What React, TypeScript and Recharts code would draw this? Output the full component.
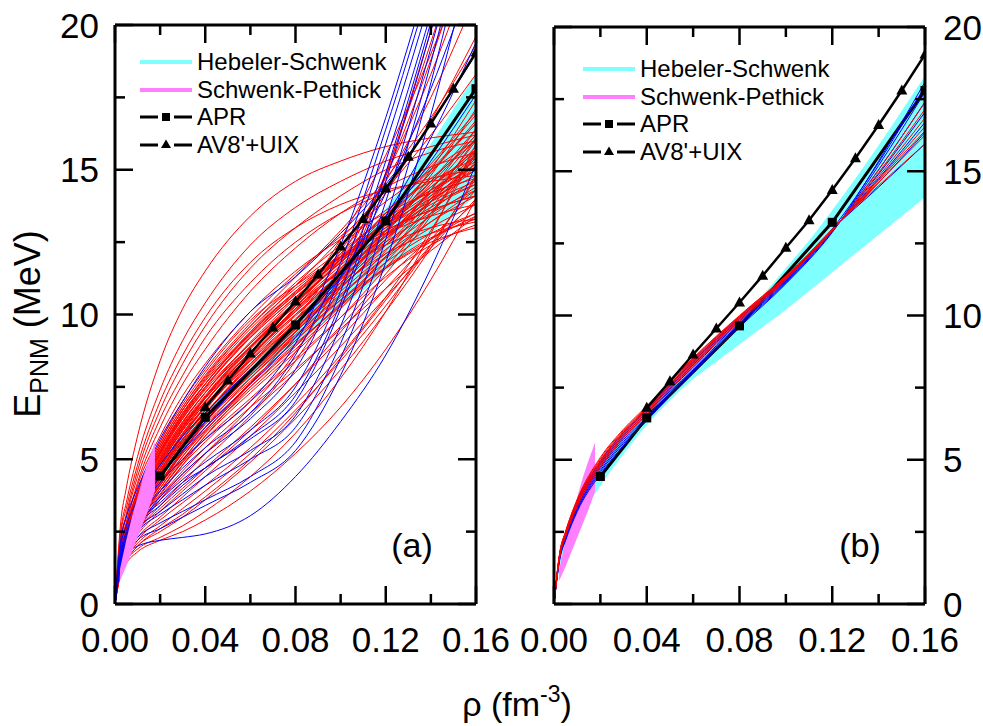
import React from "react";
import { ComposedChart, Line, Area, XAxis, YAxis, Legend } from "recharts";

const FONT = "'Liberation Sans', Arial, Helvetica, sans-serif";

// density grid (fm^-3) used by the EOS curves
const rhoGrid = [0, 0.0025, 0.005, 0.01, 0.02, 0.03, 0.04, 0.06, 0.08, 0.1, 0.12, 0.14, 0.16];

// panel (a) red curves: E_PNM (MeV) at rhoGrid
const redCurvesA: number[][] = [
  [0, 2.8, 4.0, 5.8, 8.4, 10.2, 11.5, 13.4, 14.6, 15.3, 15.8, 16.1, 16.3],
  [0, 2.5, 3.5, 5.1, 7.4, 9.1, 10.4, 12.4, 13.7, 14.6, 15.3, 15.8, 16.2],
  [0, 2.2, 3.1, 4.6, 6.7, 8.3, 9.6, 11.6, 13.0, 14.1, 15.0, 15.6, 16.0],
  [0, 2.0, 2.8, 4.2, 6.1, 7.6, 8.8, 10.8, 12.3, 13.5, 14.4, 15.1, 15.6],
  [0, 2.4, 3.3, 4.8, 7.0, 8.6, 9.9, 11.8, 13.0, 13.8, 14.3, 14.6, 14.8],
  [0, 2.1, 3.0, 4.4, 6.4, 7.9, 9.2, 11.1, 12.5, 13.5, 14.2, 14.7, 15.0],
  [0, 1.9, 2.7, 3.9, 5.6, 6.9, 8.0, 9.8, 11.0, 12.0, 12.8, 13.4, 13.8],
  [0, 1.8, 2.6, 3.8, 5.4, 6.7, 7.7, 9.4, 10.8, 12.0, 13.1, 14.0, 14.8],
  [0, 1.8, 2.5, 3.7, 5.3, 6.5, 7.5, 9.2, 10.6, 11.9, 13.2, 14.4, 15.6],
  [0, 1.7, 2.5, 3.6, 5.2, 6.4, 7.4, 9.0, 10.4, 11.8, 13.3, 14.9, 16.6],
  [0, 1.7, 2.4, 3.5, 5.1, 6.3, 7.3, 8.9, 10.3, 11.5, 12.4, 13.0, 13.3],
  [0, 1.7, 2.4, 3.5, 5.0, 6.2, 7.1, 8.7, 10.1, 11.4, 12.7, 13.9, 15.0],
  [0, 1.6, 2.3, 3.4, 4.9, 6.1, 7.0, 8.6, 10.0, 11.4, 12.9, 14.5, 16.2],
  [0, 1.6, 2.3, 3.4, 4.8, 6.0, 6.9, 8.4, 9.8, 11.2, 12.6, 14.1, 15.7],
  [0, 1.6, 2.3, 3.3, 4.7, 5.9, 6.8, 8.3, 9.7, 11.0, 12.1, 12.8, 13.2],
  [0, 1.5, 2.2, 3.2, 4.6, 5.7, 6.6, 8.1, 9.5, 10.9, 12.4, 13.9, 15.4],
  [0, 1.5, 2.2, 3.2, 4.5, 5.6, 6.5, 8.0, 9.4, 10.9, 12.5, 14.3, 16.4],
  [0, 1.5, 2.1, 3.1, 4.4, 5.5, 6.4, 7.9, 9.3, 10.7, 12.0, 13.2, 14.3],
  [0, 1.4, 2.1, 3.0, 4.3, 5.4, 6.3, 7.8, 9.2, 10.5, 11.6, 12.5, 13.0],
  [0, 1.4, 2.0, 3.0, 4.2, 5.3, 6.2, 7.7, 9.1, 10.6, 12.2, 14.0, 16.0],
  [0, 1.4, 2.0, 2.9, 4.1, 5.2, 6.0, 7.5, 8.9, 10.4, 12.0, 13.7, 15.5],
  [0, 1.3, 1.9, 2.8, 4.0, 5.0, 5.9, 7.4, 8.8, 10.3, 12.0, 13.9, 16.1],
  [0, 1.3, 1.9, 2.8, 3.9, 4.9, 5.7, 7.1, 8.5, 9.9, 11.3, 12.4, 13.1],
  [0, 1.3, 1.8, 2.7, 3.8, 4.8, 5.6, 7.0, 8.4, 9.9, 11.6, 13.5, 15.6],
  [0, 1.2, 1.8, 2.6, 3.7, 4.6, 5.4, 6.8, 8.1, 9.5, 10.9, 12.2, 13.4],
  [0, 1.2, 1.7, 2.5, 3.6, 4.5, 5.2, 6.6, 8.0, 9.6, 11.4, 13.4, 15.7],
  [0, 1.7, 2.5, 3.6, 5.2, 6.5, 7.6, 9.4, 11.0, 12.6, 14.3, 16.2, 18.3],
  [0, 1.6, 2.3, 3.4, 4.9, 6.1, 7.1, 8.8, 10.4, 12.1, 14.2, 16.7, 19.6],
  [0, 1.5, 2.2, 3.2, 4.6, 5.8, 6.8, 8.5, 10.2, 12.2, 14.6, 17.5, 21.0],
  [0, 1.4, 2.0, 2.9, 4.2, 5.3, 6.3, 8.0, 9.8, 12.0, 14.8, 18.3, 22.5],
  [0, 1.8, 2.6, 3.8, 5.5, 6.8, 7.9, 9.7, 11.3, 12.9, 14.7, 16.8, 19.3],
  [0, 1.9, 2.7, 3.9, 5.6, 7.0, 8.1, 9.9, 11.4, 12.7, 13.9, 15.0, 16.0],
  [0, 2.0, 2.8, 4.1, 5.8, 7.2, 8.3, 10.1, 11.5, 12.6, 13.5, 14.2, 14.7],
  [0, 1.5, 2.1, 3.1, 4.4, 5.5, 6.4, 7.9, 9.4, 11.0, 12.8, 14.8, 17.1],
  [0, 1.6, 2.3, 3.3, 4.8, 6.0, 7.0, 8.7, 10.2, 11.6, 12.8, 13.8, 14.5],
  [0, 1.8, 2.5, 3.7, 5.3, 6.6, 7.6, 9.3, 10.7, 11.9, 12.9, 13.6, 14.1],
  [0, 1.4, 2.0, 2.9, 4.2, 5.2, 6.1, 7.6, 9.0, 10.3, 11.6, 12.6, 13.4],
  [0, 1.5, 2.2, 3.2, 4.6, 5.7, 6.6, 8.2, 9.7, 11.2, 12.7, 14.2, 15.8],
  [0, 1.7, 2.4, 3.5, 5.0, 6.2, 7.2, 8.9, 10.4, 11.9, 13.5, 15.2, 17.0],
  [0, 1.3, 1.9, 2.7, 3.9, 4.9, 5.8, 7.3, 8.7, 10.2, 11.8, 13.5, 15.3],
  [0, 1.6, 2.2, 3.2, 4.5, 5.6, 6.5, 8.0, 9.5, 11.1, 12.9, 15.0, 17.4],
  [0, 1.9, 2.6, 3.8, 5.4, 6.7, 7.8, 9.6, 11.1, 12.4, 13.6, 14.6, 15.4],
  [0, 1.85, 2.6, 3.75, 5.4, 6.7, 7.75, 9.5, 10.9, 12.0, 12.9, 13.6, 14.1],
  [0, 1.8, 2.55, 3.7, 5.3, 6.6, 7.6, 9.35, 10.75, 11.95, 13.0, 13.9, 14.6],
  [0, 1.75, 2.5, 3.6, 5.15, 6.4, 7.45, 9.2, 10.6, 11.9, 13.1, 14.2, 15.2],
  [0, 1.7, 2.45, 3.55, 5.05, 6.3, 7.3, 9.0, 10.45, 11.8, 13.1, 14.4, 15.7],
  [0, 1.65, 2.4, 3.45, 4.95, 6.15, 7.15, 8.85, 10.3, 11.7, 13.1, 14.6, 16.2],
  [0, 1.6, 2.3, 3.35, 4.8, 6.0, 7.0, 8.7, 10.15, 11.55, 12.9, 14.2, 15.5],
  [0, 1.55, 2.25, 3.25, 4.7, 5.85, 6.85, 8.55, 10.0, 11.4, 12.75, 14.0, 15.2],
  [0, 1.5, 2.2, 3.15, 4.55, 5.7, 6.7, 8.4, 9.85, 11.25, 12.6, 13.9, 15.1],
  [0, 1.45, 2.1, 3.05, 4.4, 5.55, 6.55, 8.25, 9.7, 11.1, 12.4, 13.6, 14.7],
  [0, 1.4, 2.05, 2.95, 4.3, 5.4, 6.4, 8.1, 9.55, 10.95, 12.25, 13.4, 14.4],
  [0, 1.35, 1.95, 2.85, 4.15, 5.25, 6.25, 7.95, 9.4, 10.8, 12.1, 13.2, 14.1],
  [0, 1.3, 1.9, 2.75, 4.0, 5.1, 6.1, 7.8, 9.25, 10.65, 11.95, 13.0, 13.8],
  [0, 1.25, 1.85, 2.65, 3.9, 4.95, 5.95, 7.65, 9.1, 10.5, 11.8, 12.8, 13.5],
  [0, 1.2, 1.75, 2.55, 3.75, 4.8, 5.8, 7.5, 8.95, 10.35, 11.65, 12.65, 13.3],
  [0, 1.8, 2.55, 3.65, 5.25, 6.55, 7.6, 9.35, 10.8, 12.1, 13.4, 14.7, 16.0],
  [0, 1.7, 2.45, 3.5, 5.0, 6.25, 7.3, 9.05, 10.55, 12.0, 13.5, 15.0, 16.6],
  [0, 1.6, 2.35, 3.4, 4.85, 6.05, 7.1, 8.85, 10.35, 11.85, 13.4, 15.1, 16.9],
  [0, 1.5, 2.2, 3.2, 4.6, 5.8, 6.85, 8.6, 10.1, 11.6, 13.2, 14.9, 16.7],
  [0, 1.4, 2.05, 3.0, 4.35, 5.5, 6.55, 8.3, 9.8, 11.3, 12.9, 14.6, 16.4],
  [0, 1.3, 1.95, 2.8, 4.1, 5.25, 6.3, 8.0, 9.5, 11.0, 12.6, 14.3, 16.1],
  [0, 1.9, 2.65, 3.8, 5.5, 6.8, 7.85, 9.6, 11.0, 12.2, 13.3, 14.3, 15.1],
  [0, 1.75, 2.5, 3.6, 5.2, 6.45, 7.5, 9.25, 10.7, 12.0, 13.2, 14.3, 15.3],
  [0, 1.65, 2.35, 3.4, 4.9, 6.1, 7.15, 8.9, 10.4, 11.8, 13.0, 14.1, 15.0],
  [0, 1.55, 2.25, 3.25, 4.7, 5.9, 6.95, 8.7, 10.2, 11.5, 12.7, 13.7, 14.5],
  [0, 1.45, 2.15, 3.1, 4.5, 5.65, 6.7, 8.45, 9.95, 11.3, 12.5, 13.5, 14.3],
  [0, 1.2, 1.6, 2.1, 2.7, 3.3, 3.9, 5.2, 6.7, 8.4, 10.3, 12.4, 14.7],
  [0, 1.1, 1.5, 2.0, 2.5, 3.0, 3.6, 4.9, 6.4, 8.1, 10.1, 12.3, 14.8],
  [0, 1.2, 1.7, 2.3, 3.0, 3.7, 4.4, 5.8, 7.3, 8.9, 10.6, 12.3, 14.0],
  [0, 1.1, 1.5, 1.9, 2.3, 2.7, 3.2, 4.4, 5.9, 7.8, 10.1, 12.8, 15.9],
  [0, 1.0, 1.4, 1.8, 2.2, 2.5, 2.9, 3.9, 5.2, 6.8, 8.8, 11.2, 14.0],
  [0, 1.2, 1.6, 2.2, 2.9, 3.5, 4.1, 5.4, 6.9, 8.6, 10.6, 12.9, 15.6],
  [0, 1.3, 1.8, 2.5, 3.3, 4.0, 4.7, 6.1, 7.6, 9.2, 10.9, 12.6, 14.3],
  [0, 1.1, 1.5, 2.0, 2.6, 3.1, 3.7, 5.0, 6.6, 8.5, 10.5, 12.4, 13.9],
  [0, 1.3, 1.8, 2.4, 3.2, 3.9, 4.6, 6.0, 7.6, 9.4, 11.2, 12.6, 13.5],
  [0, 1.6, 2.3, 3.3, 4.7, 5.8, 6.8, 8.5, 10.3, 12.6, 15.5, 19.0, 23.0],
  [0, 1.4, 2.0, 2.9, 4.1, 5.1, 6.0, 7.6, 9.4, 11.7, 14.8, 18.8, 23.5],
  [0, 1.2, 1.7, 2.5, 3.4, 4.2, 5.0, 6.5, 8.4, 11.0, 14.8, 19.8, 25.0],
  [0, 1.3, 1.8, 2.6, 3.6, 4.4, 5.2, 6.8, 8.7, 11.3, 14.9, 19.4, 24.5],
];

// panel (a) blue curves
const blueCurvesA: number[][] = [
  [0, 1.3, 1.7, 2.0, 2.2, 2.3, 2.42, 3.05, 4.4, 6.3, 8.6, 11.6, 15.2],
  [0, 2.2, 3.0, 4.0, 5.7, 7.0, 8.2, 10.1, 11.3, 12.8, 14.5, 16.6, 19.0],
  [0, 1.7, 2.3, 3.0, 3.9, 4.7, 5.4, 6.6, 8.6, 11.8, 16.4, 21.5, 27.0],
  [0, 1.6, 2.2, 2.9, 3.7, 4.5, 5.2, 6.4, 8.1, 11.3, 15.9, 21.0, 26.5],
  [0, 1.6, 2.1, 2.8, 3.6, 4.3, 4.9, 6.0, 7.5, 10.8, 15.3, 20.4, 26.0],
  [0, 1.5, 2.0, 2.7, 3.4, 4.1, 4.7, 5.7, 7.0, 10.2, 14.6, 19.8, 25.5],
  [0, 1.5, 2.0, 2.6, 3.2, 3.8, 4.4, 5.3, 6.5, 9.6, 13.9, 19.2, 25.0],
  [0, 1.4, 1.9, 2.5, 3.1, 3.6, 4.1, 5.0, 6.1, 9.0, 13.3, 18.7, 25.0],
  [0, 1.7, 2.4, 3.2, 4.2, 5.0, 5.7, 7.0, 9.0, 12.4, 16.8, 21.9, 27.0],
  [0, 1.5, 2.1, 2.8, 3.5, 4.2, 4.7, 5.8, 7.2, 10.4, 14.9, 20.1, 26.0],
  [0, 1.4, 1.8, 2.3, 2.8, 3.2, 3.6, 4.4, 5.6, 8.5, 12.6, 18.0, 24.5],
  [0, 1.8, 2.5, 3.3, 4.4, 5.3, 6.1, 7.6, 9.2, 11.3, 14.2, 17.8, 22.0],
  [0, 2.0, 2.7, 3.6, 4.8, 5.8, 6.6, 8.1, 9.6, 11.3, 13.4, 16.1, 19.4],
  [0, 1.3, 1.7, 2.2, 2.6, 3.0, 3.4, 4.2, 5.3, 7.9, 11.8, 16.9, 23.0],
  [0, 1.6, 2.3, 3.2, 4.4, 5.4, 6.3, 8.0, 9.6, 11.4, 13.2, 15.3, 17.6],
];

// panel (b) red curves
const redCurvesB: number[][] = [
  [0, 1.72, 2.42, 3.48, 4.86, 5.88, 6.7, 8.38, 9.88, 11.3, 13.0, 14.5, 15.95],
  [0, 1.74, 2.45, 3.52, 4.92, 5.93, 6.74, 8.42, 9.92, 11.32, 12.98, 14.62, 16.25],
  [0, 1.76, 2.48, 3.56, 4.98, 5.98, 6.78, 8.46, 9.95, 11.34, 12.96, 14.72, 16.55],
  [0, 1.78, 2.5, 3.6, 5.03, 6.02, 6.82, 8.5, 9.98, 11.36, 12.95, 14.82, 16.85],
  [0, 1.68, 2.38, 3.42, 4.8, 5.82, 6.64, 8.32, 9.84, 11.27, 12.95, 14.95, 17.15],
  [0, 1.66, 2.35, 3.38, 4.74, 5.76, 6.58, 8.27, 9.79, 11.24, 12.93, 15.05, 17.4],
  [0, 1.8, 2.52, 3.63, 5.08, 6.06, 6.86, 8.53, 10.0, 11.38, 12.97, 14.68, 16.4],
];

// panel (b) blue curves
const blueCurvesB: number[][] = [
  [0, 1.55, 2.2, 3.2, 4.5, 5.5, 6.35, 8.05, 9.6, 11.1, 12.88, 15.35, 18.1],
  [0, 1.58, 2.24, 3.25, 4.57, 5.57, 6.41, 8.11, 9.65, 11.13, 12.9, 15.2, 17.75],
  [0, 1.61, 2.28, 3.3, 4.63, 5.63, 6.47, 8.17, 9.7, 11.16, 12.92, 15.05, 17.4],
  [0, 1.64, 2.32, 3.35, 4.7, 5.7, 6.53, 8.23, 9.75, 11.19, 12.94, 14.9, 17.05],
  [0, 1.67, 2.36, 3.4, 4.76, 5.77, 6.59, 8.29, 9.8, 11.22, 12.96, 14.75, 16.7],
  [0, 1.7, 2.4, 3.45, 4.83, 5.83, 6.65, 8.35, 9.85, 11.25, 12.97, 14.6, 16.35],
  [0, 1.73, 2.43, 3.5, 4.89, 5.89, 6.7, 8.4, 9.9, 11.28, 12.98, 14.45, 15.95],
  [0, 1.75, 2.46, 3.54, 4.95, 5.95, 6.75, 8.45, 9.95, 11.31, 13.0, 15.3, 17.95],
];

// APR
const aprRho = [0.02, 0.04, 0.08, 0.12, 0.16];
const aprE = [4.42, 6.45, 9.64, 13.23, 17.8];

// AV8'+UIX
const av8Rho = [0.04, 0.05, 0.06, 0.07, 0.08, 0.09, 0.1, 0.11, 0.12, 0.13, 0.14, 0.15, 0.16];
const av8E = [6.8, 7.72, 8.65, 9.55, 10.45, 11.38, 12.35, 13.3, 14.35, 15.45, 16.6, 17.8, 19.05];

// Hebeler-Schwenk band
const hsRho = [0, 0.0025, 0.005, 0.01, 0.02, 0.03, 0.04, 0.05, 0.06, 0.07, 0.08, 0.09, 0.1, 0.11, 0.12, 0.13, 0.14, 0.15, 0.16];
const hsLow = [0, 1.3, 1.9, 2.8, 4.1, 5.2, 6.2, 7.05, 7.8, 8.4, 9.0, 9.6, 10.2, 10.85, 11.5, 12.15, 12.8, 13.45, 14.1];
const hsHigh = [0, 1.8, 2.5, 3.5, 4.9, 5.9, 6.7, 7.4, 8.15, 8.95, 9.8, 10.7, 11.65, 12.6, 13.65, 14.75, 15.9, 17.1, 18.3];

// Schwenk-Pethick band
const spRho = [0.0022, 0.005, 0.0075, 0.01, 0.0125, 0.015, 0.0177];
const spLow = [0.8, 1.3, 1.8, 2.3, 2.8, 3.3, 3.9];
const spHigh = [1.2, 2.2, 3.0, 3.7, 4.4, 5.0, 5.6];

// axes
const xTicks = [0, 0.02, 0.04, 0.06, 0.08, 0.1, 0.12, 0.14, 0.16];
const yTicks = [0, 2.5, 5, 7.5, 10, 12.5, 15, 17.5, 20];
const legendLabels = ["Hebeler-Schwenk", "Schwenk-Pethick", "APR", "AV8'+UIX"];

const toSeries = (xs: number[], ys: number[]) => xs.map((x, i) => ({ x, y: ys[i] }));
const toBand = (xs: number[], lo: number[], hi: number[]) => xs.map((x, i) => ({ x, band: [lo[i], hi[i]] }));

const hsData = toBand(hsRho, hsLow, hsHigh);
const spData = toBand(spRho, spLow, spHigh);
const aprData = toSeries(aprRho, aprE);
const av8Data = toSeries(av8Rho, av8E);

const isMajor = (v: number, step: number) => Math.abs(v / step - Math.round(v / step)) < 1e-6;
const MAJ = 18;
const MIN = 10;
const TW = 2.5;
const TICK_FS = 35;

const BottomTick = (props: any) => {
  const { x, y, payload } = props;
  const v = payload.value as number;
  const major = isMajor(v, 0.04);
  return (
    <g>
      <line x1={x} x2={x} y1={y} y2={y - (major ? MAJ : MIN)} stroke="#000" strokeWidth={TW} />
      {major && (
        <text x={x} y={y + 48} textAnchor="middle" fontSize={TICK_FS} fontFamily={FONT} fill="#000">
          {v.toFixed(2)}
        </text>
      )}
    </g>
  );
};

const TopTick = (props: any) => {
  const { x, y, payload } = props;
  const major = isMajor(payload.value, 0.04);
  return <line x1={x} x2={x} y1={y} y2={y + (major ? MAJ : MIN)} stroke="#000" strokeWidth={TW} />;
};

const makeLeftTick = (labels: boolean) => (props: any) => {
  const { x, y, payload } = props;
  const v = payload.value as number;
  const major = isMajor(v, 5);
  return (
    <g>
      <line x1={x} x2={x + (major ? MAJ : MIN)} y1={y} y2={y} stroke="#000" strokeWidth={TW} />
      {labels && major && (
        <text x={x - 16} y={y + 12.5} textAnchor="end" fontSize={TICK_FS} fontFamily={FONT} fill="#000">
          {String(v)}
        </text>
      )}
    </g>
  );
};

const makeRightTick = (labels: boolean) => (props: any) => {
  const { x, y, payload } = props;
  const v = payload.value as number;
  const major = isMajor(v, 5);
  return (
    <g>
      <line x1={x} x2={x - (major ? MAJ : MIN)} y1={y} y2={y} stroke="#000" strokeWidth={TW} />
      {labels && major && (
        <text x={x + 18} y={y + 12.5} textAnchor="start" fontSize={TICK_FS} fontFamily={FONT} fill="#000">
          {String(v)}
        </text>
      )}
    </g>
  );
};

const LeftTickLabeled = makeLeftTick(true);
const LeftTickPlain = makeLeftTick(false);
const RightTickLabeled = makeRightTick(true);
const RightTickPlain = makeRightTick(false);

const SquareDot = (p: any) => {
  if (p.cx == null || p.cy == null) return <g key={p.index} />;
  return <rect key={p.index} x={p.cx - 4.5} y={p.cy - 4.5} width={9} height={9} fill="#000" />;
};
const TriDot = (p: any) => {
  if (p.cx == null || p.cy == null) return <g key={p.index} />;
  return (
    <path
      key={p.index}
      d={`M${p.cx},${p.cy - 6} L${p.cx + 5.5},${p.cy + 4} L${p.cx - 5.5},${p.cy + 4} Z`}
      fill="#000"
    />
  );
};

const LegendBox = () => {
  const row = { display: "flex", alignItems: "center", height: 27.7 } as React.CSSProperties;
  const samples = [
    <line x1={0} x2={52} y1={10} y2={10} stroke="#80FFFF" strokeWidth={4} />,
    <line x1={0} x2={52} y1={10} y2={10} stroke="#FF80FF" strokeWidth={4} />,
    <g>
      <line x1={0} x2={18} y1={10} y2={10} stroke="#000" strokeWidth={3} />
      <rect x={22} y={6} width={8} height={8} fill="#000" />
      <line x1={34} x2={52} y1={10} y2={10} stroke="#000" strokeWidth={3} />
    </g>,
    <g>
      <line x1={0} x2={18} y1={10} y2={10} stroke="#000" strokeWidth={3} />
      <path d="M26,4.5 L31,13 L21,13 Z" fill="#000" />
      <line x1={34} x2={52} y1={10} y2={10} stroke="#000" strokeWidth={3} />
    </g>,
  ];
  return (
    <div style={{ fontFamily: FONT, fontSize: 24, color: "#000", whiteSpace: "nowrap" }}>
      {legendLabels.map((lab, i) => (
        <div key={lab} style={row}>
          <svg width={52} height={20} style={{ display: "block" }}>
            {samples[i]}
          </svg>
          <span style={{ marginLeft: 5, lineHeight: "24px" }}>{lab}</span>
        </div>
      ))}
    </div>
  );
};

type PanelProps = {
  left: number;
  width: number;
  margin: { top: number; right: number; bottom: number; left: number };
  red: number[][];
  blue: number[][];
  redOnTop: boolean;
  aprUnder: boolean;
  spOnTop: boolean;
  leftLabels: boolean;
  rightLabels: boolean;
  legendPos: { left: number; top: number };
};

function Panel(p: PanelProps) {
  const axisLine = { stroke: "#000", strokeWidth: 3 };
  const redLines = p.red.map((c, i) => (
    <Line
      key={`r${i}`}
      xAxisId="b"
      yAxisId="l"
      data={toSeries(rhoGrid, c)}
      dataKey="y"
      type="monotone"
      stroke="#FF0000"
      strokeWidth={1}
      dot={false}
      activeDot={false}
      isAnimationActive={false}
      legendType="none"
    />
  ));
  const blueLines = p.blue.map((c, i) => (
    <Line
      key={`b${i}`}
      xAxisId="b"
      yAxisId="l"
      data={toSeries(rhoGrid, c)}
      dataKey="y"
      type="monotone"
      stroke="#0000FF"
      strokeWidth={1}
      dot={false}
      activeDot={false}
      isAnimationActive={false}
      legendType="none"
    />
  ));
  const aprExtra = p.aprUnder ? ({ zIndex: 390 } as any) : {};
  const aprLine = (
    <Line
      key="apr"
      xAxisId="b"
      yAxisId="l"
      data={aprData}
      dataKey="y"
      type="linear"
      stroke="#000"
      strokeWidth={3}
      dot={SquareDot}
      activeDot={false}
      isAnimationActive={false}
      legendType="none"
      {...aprExtra}
    />
  );
  const spExtra = p.spOnTop ? ({ zIndex: 450 } as any) : {};
  const spArea = (
    <Area
      key="sp"
      xAxisId="b"
      yAxisId="l"
      data={spData}
      dataKey="band"
      type="linear"
      stroke="none"
      fill="#FF80FF"
      fillOpacity={1}
      isAnimationActive={false}
      activeDot={false}
      legendType="none"
      {...spExtra}
    />
  );
  return (
    <div style={{ position: "absolute", left: p.left, top: 0 }}>
      <ComposedChart width={p.width} height={726} margin={p.margin}>
        <XAxis
          xAxisId="b"
          dataKey="x"
          type="number"
          domain={[0, 0.16]}
          ticks={xTicks}
          interval={0}
          allowDataOverflow
          orientation="bottom"
          height={5}
          tickSize={0}
          tickMargin={0}
          tickLine={false}
          tick={BottomTick}
          axisLine={axisLine}
        />
        <XAxis
          xAxisId="t"
          dataKey="x"
          type="number"
          domain={[0, 0.16]}
          ticks={xTicks}
          interval={0}
          allowDataOverflow
          orientation="top"
          height={5}
          tickSize={0}
          tickMargin={0}
          tickLine={false}
          tick={TopTick}
          axisLine={axisLine}
        />
        <YAxis
          yAxisId="l"
          type="number"
          domain={[0, 20]}
          ticks={yTicks}
          interval={0}
          allowDataOverflow
          orientation="left"
          width={5}
          tickSize={0}
          tickMargin={0}
          tickLine={false}
          tick={p.leftLabels ? LeftTickLabeled : LeftTickPlain}
          axisLine={axisLine}
        />
        <YAxis
          yAxisId="r"
          type="number"
          domain={[0, 20]}
          ticks={yTicks}
          interval={0}
          allowDataOverflow
          orientation="right"
          width={5}
          tickSize={0}
          tickMargin={0}
          tickLine={false}
          tick={p.rightLabels ? RightTickLabeled : RightTickPlain}
          axisLine={axisLine}
        />
        <Legend
          layout="vertical"
          align="center"
          verticalAlign="middle"
          content={() => <LegendBox />}
          wrapperStyle={{ left: p.legendPos.left, top: p.legendPos.top, width: "auto", height: "auto" }}
        />
        <Area
          xAxisId="b"
          yAxisId="l"
          data={hsData}
          dataKey="band"
          type="monotone"
          stroke="none"
          fill="#80FFFF"
          fillOpacity={1}
          isAnimationActive={false}
          activeDot={false}
          legendType="none"
        />
        {!p.spOnTop && spArea}
        {p.aprUnder && aprLine}
        {p.redOnTop ? blueLines : redLines}
        {p.redOnTop ? redLines : blueLines}
        {p.spOnTop && spArea}
        {!p.aprUnder && aprLine}
        <Line
          xAxisId="b"
          yAxisId="l"
          data={av8Data}
          dataKey="y"
          type="linear"
          stroke="#000"
          strokeWidth={2.5}
          dot={TriDot}
          activeDot={false}
          isAnimationActive={false}
          legendType="none"
        />
      </ComposedChart>
    </div>
  );
}

export default function App() {
  return (
    <div style={{ position: "absolute", left: 0, top: 0, width: 983, height: 726, background: "#fff", overflow: "hidden" }}>
      <Panel
        left={0}
        width={540}
        margin={{ top: 20, right: 59, bottom: 117, left: 110 }}
        red={redCurvesA}
        blue={blueCurvesA}
        redOnTop={false}
        aprUnder={false}
        spOnTop={true}
        leftLabels={true}
        rightLabels={false}
        legendPos={{ left: 140, top: 48 }}
      />
      <Panel
        left={500}
        width={483}
        margin={{ top: 22, right: 53, bottom: 117, left: 49 }}
        red={redCurvesB}
        blue={blueCurvesB}
        redOnTop={true}
        aprUnder={true}
        spOnTop={false}
        leftLabels={false}
        rightLabels={true}
        legendPos={{ left: 83, top: 55 }}
      />
      <svg width={983} height={726} style={{ position: "absolute", left: 0, top: 0, pointerEvents: "none" }}>
        <text
          transform="translate(40, 324) rotate(-90)"
          x={0}
          y={0}
          textAnchor="middle"
          fontSize={36}
          fontFamily={FONT}
          fill="#000"
        >
          <tspan>E</tspan>
          <tspan fontSize={25} dy={8}>PNM</tspan>
          <tspan dy={-8}> (MeV)</tspan>
        </text>
        <text x={517} y={716} textAnchor="middle" fontSize={34} fontFamily={FONT} fill="#000">
          <tspan>ρ (fm</tspan>
          <tspan fontSize={23} dy={-14}>-3</tspan>
          <tspan dy={14}>)</tspan>
        </text>
        <text x={412} y={557} textAnchor="middle" fontSize={34} fontFamily={FONT} fill="#000">
          (a)
        </text>
        <text x={860} y={557} textAnchor="middle" fontSize={34} fontFamily={FONT} fill="#000">
          (b)
        </text>
      </svg>
    </div>
  );
}
